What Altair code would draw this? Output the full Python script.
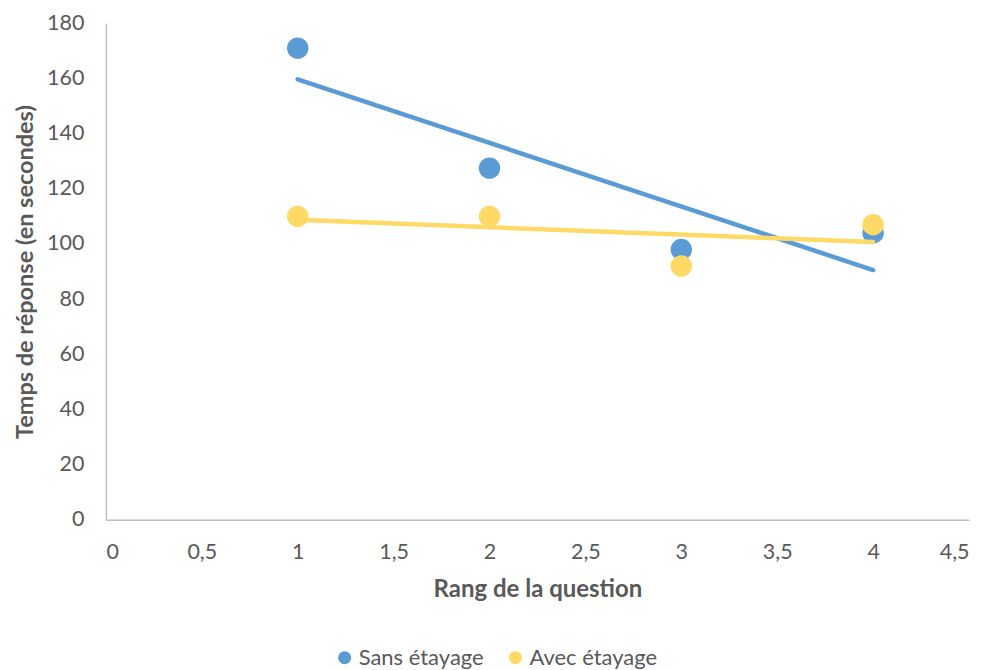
import altair as alt
import pandas as pd

rang = [1, 2, 3, 4]
sans_etayage = [171, 127.5, 98, 104]
avec_etayage = [110, 110, 92, 107]
series = ["Sans étayage", "Avec étayage"]
colors = ["#5B9BD5", "#FFD966"]

rows = []
for s, vals in zip(series, [sans_etayage, avec_etayage]):
    for x, y in zip(rang, vals):
        rows.append({"rang": x, "temps": y, "serie": s})
df = pd.DataFrame(rows)

FONT = "Lato"
GREY = "#595959"

x_enc = alt.X("rang:Q", scale=alt.Scale(domain=[0, 4.5], nice=False),
              axis=alt.Axis(values=[0, 0.5, 1, 1.5, 2, 2.5, 3, 3.5, 4, 4.5],
                            labelExpr="replace(toString(datum.value), '.', ',')",
                            title="Rang de la question", grid=False, ticks=False,
                            domainColor="#BFBFBF", domainWidth=1.5,
                            labelPadding=22, titlePadding=14,
                            labelFontSize=21.5, titleFontSize=24))
y_enc = alt.Y("temps:Q", scale=alt.Scale(domain=[0, 180], nice=False),
              axis=alt.Axis(values=list(range(0, 181, 20)),
                            title="Temps de réponse (en secondes)", grid=False, ticks=False,
                            domainColor="#BFBFBF", domainWidth=1.5,
                            labelPadding=22, titlePadding=9,
                            labelFontSize=21.5, titleFontSize=23.5))

points = alt.Chart(df).mark_circle(size=460, opacity=1).encode(
    x=x_enc, y=y_enc,
    color=alt.Color("serie:N", scale=alt.Scale(domain=series, range=colors),
                    legend=alt.Legend(title=None, orient="none", direction="horizontal",
                                      legendX=228, legendY=624, symbolType="circle",
                                      symbolSize=170, labelFontSize=22, labelColor=GREY,
                                      labelFont=FONT, columnPadding=20, symbolOffset=0,
                                      labelOffset=3)),
    order=alt.Order("ord:Q")
).transform_calculate(ord="datum.serie == 'Sans étayage' ? 0 : 1")

lines = []
for s, c in zip(series, colors):
    lines.append(
        alt.Chart(df).transform_filter(alt.datum.serie == s)
        .transform_regression("rang", "temps")
        .mark_line(color=c, strokeWidth=4.5, strokeCap="round")
        .encode(x="rang:Q", y="temps:Q")
    )

chart = alt.layer(points, *lines).properties(
    width=864, height=497,
    autosize=alt.AutoSizeParams(type="none"),
    padding={"left": 98, "top": 15, "right": 10, "bottom": 150},
).configure_view(stroke=None).configure_axis(
    labelFont=FONT, titleFont=FONT, labelColor=GREY, titleColor=GREY,
    titleFontWeight="bold"
)

chart.save("out.html", embed_options={"renderer": "svg", "actions": False})
